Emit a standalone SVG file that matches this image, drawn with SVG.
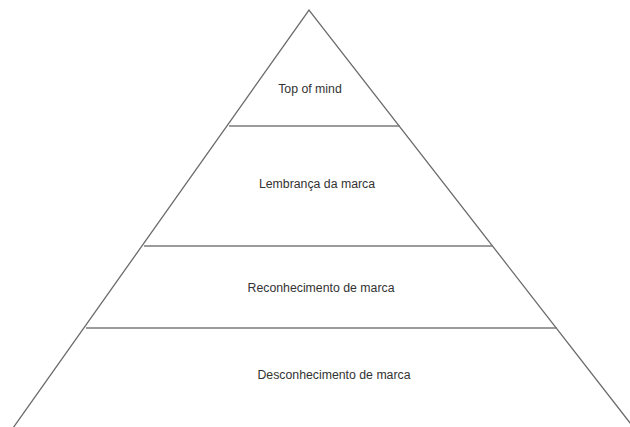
<svg xmlns="http://www.w3.org/2000/svg" width="630" height="427" viewBox="0 0 630 427">
<style>
.edge{stroke:#6b6b6b;stroke-width:1.3;fill:none}
.div{stroke:#7a7a7a;stroke-width:1.3;fill:none}
.lbl{font-family:"Liberation Sans",Arial,sans-serif;font-size:12.3px;fill:#333;text-anchor:middle}
</style>
<rect width="630" height="427" fill="#fff"/>
<g id="connectors">
<polyline class="edge" points="13,428 309,10 634,428"/>
<line class="div" x1="229" y1="126" x2="400" y2="126"/>
<line class="div" x1="144" y1="246" x2="493" y2="246"/>
<line class="div" x1="86" y1="328" x2="557" y2="328"/>
</g>
<g id="top-of-mind"><text class="lbl" x="310" y="93">Top of mind</text></g>
<g id="lembranca"><text class="lbl" x="317" y="188">Lembrança da marca</text></g>
<g id="reconhecimento"><text class="lbl" x="321" y="292">Reconhecimento de marca</text></g>
<g id="desconhecimento"><text class="lbl" x="334" y="379">Desconhecimento de marca</text></g>
</svg>
